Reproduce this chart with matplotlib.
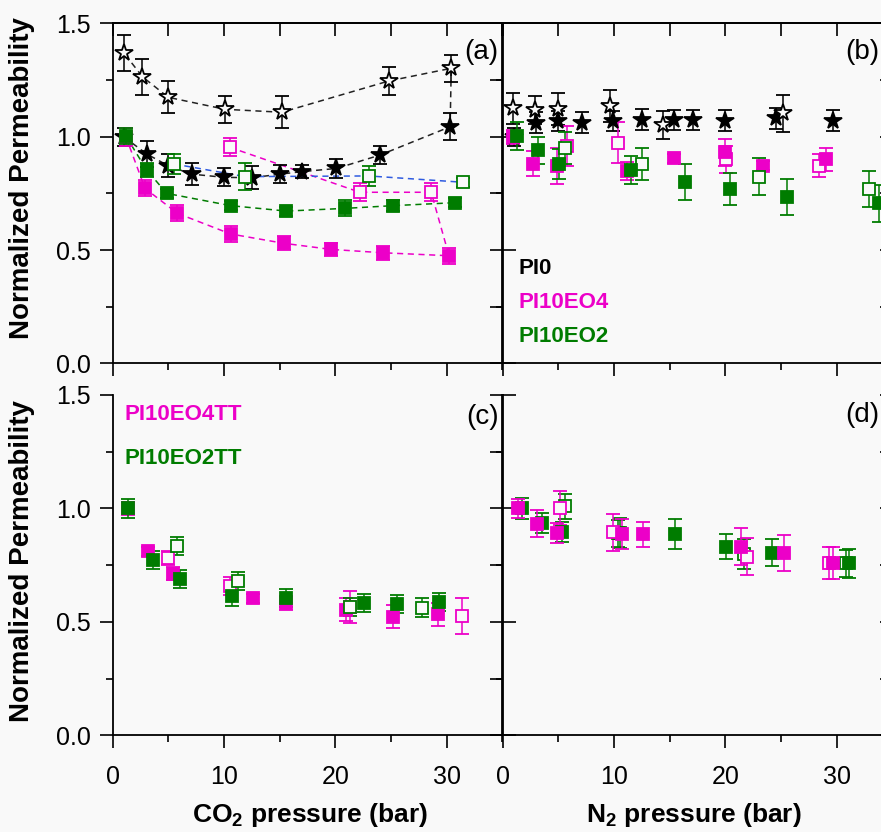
import numpy as np
import matplotlib.pyplot as plt
from matplotlib.ticker import MultipleLocator

plt.rcParams['font.family'] = ['Liberation Sans', 'DejaVu Sans']

MAG = '#ec00c8'
GRN = '#007c00'
BLU = '#2f5be0'
BG = '#f9f9f9'

# ---- (a) CO2, pristine / blended membranes ----
a_pi0_up_x = [1.0, 3.07, 5.0, 7.1, 10.0, 12.5, 15.05, 17.0, 20.1, 24.0, 30.3]
a_pi0_up_y = [1.00, 0.924, 0.872, 0.835, 0.821, 0.819, 0.835, 0.846, 0.860, 0.919, 1.044]
a_pi0_up_e = [0.04, 0.057, 0.05, 0.05, 0.04, 0.05, 0.04, 0.03, 0.04, 0.04, 0.06]
a_pi0_dn_x = [30.4, 24.8, 15.2, 10.1, 5.0, 2.68, 1.05]
a_pi0_dn_y = [1.302, 1.246, 1.108, 1.121, 1.174, 1.265, 1.368]
a_pi0_dn_e = [0.06, 0.06, 0.07, 0.06, 0.07, 0.08, 0.08]

a_eo4_up_x = [1.2, 2.92, 5.83, 10.6, 15.35, 19.6, 24.3, 30.2]
a_eo4_up_y = [1.00, 0.772, 0.662, 0.571, 0.530, 0.503, 0.488, 0.475]
a_eo4_up_e = [0.04, 0.035, 0.035, 0.035, 0.03, 0.03, 0.03, 0.035]
a_eo4_dn_x = [28.6, 22.2, 10.55]
a_eo4_dn_y = [0.755, 0.755, 0.953]
a_eo4_dn_e = [0.04, 0.04, 0.04]

a_eo2_up_x = [1.2, 3.07, 4.87, 10.6, 15.6, 20.9, 25.2, 30.7]
a_eo2_up_y = [1.003, 0.853, 0.750, 0.696, 0.672, 0.684, 0.696, 0.709]
a_eo2_up_e = [0.035, 0.03, 0.02, 0.02, 0.02, 0.035, 0.025, 0.02]
a_eo2_dn_x = [5.5, 11.9, 23.0, 31.5]
a_eo2_dn_y = [0.88, 0.824, 0.827, 0.799]
a_eo2_dn_e = [0.045, 0.06, 0.045, 0.02]

# ---- (b) N2, pristine / blended membranes ----
b_pi0_up_x = [1.0, 3.0, 5.0, 7.1, 9.95, 12.5, 15.35, 17.1, 20.0, 24.5, 29.7]
b_pi0_up_y = [1.00, 1.062, 1.069, 1.062, 1.069, 1.076, 1.073, 1.073, 1.071, 1.081, 1.071]
b_pi0_up_e = [0.04, 0.045, 0.045, 0.045, 0.045, 0.045, 0.045, 0.045, 0.045, 0.045, 0.045]
b_pi0_dn_x = [0.9, 2.9, 5.0, 9.66, 14.4, 25.2]
b_pi0_dn_y = [1.125, 1.118, 1.121, 1.135, 1.052, 1.103]
b_pi0_dn_e = [0.07, 0.06, 0.07, 0.07, 0.06, 0.08]

b_eo4_up_x = [0.97, 2.77, 4.87, 11.16, 15.35, 20.0, 23.4, 29.0]
b_eo4_up_y = [1.00, 0.880, 0.872, 0.850, 0.905, 0.931, 0.872, 0.900]
b_eo4_up_e = [0.03, 0.055, 0.08, 0.04, 0.02, 0.06, 0.02, 0.05]
b_eo4_dn_x = [5.77, 10.4, 20.1, 28.4]
b_eo4_dn_y = [0.959, 0.973, 0.900, 0.872]
b_eo4_dn_e = [0.09, 0.09, 0.06, 0.05]

b_eo2_up_x = [1.27, 3.2, 5.1, 11.5, 16.4, 20.4, 25.5, 33.8]
b_eo2_up_y = [1.003, 0.941, 0.880, 0.853, 0.799, 0.768, 0.735, 0.706]
b_eo2_up_e = [0.06, 0.06, 0.065, 0.06, 0.08, 0.07, 0.08, 0.08]
b_eo2_dn_x = [5.6, 12.5, 23.0, 32.9]
b_eo2_dn_y = [0.949, 0.880, 0.824, 0.768]
b_eo2_dn_e = [0.07, 0.07, 0.08, 0.08]

# ---- (c) CO2, thermally treated ----
c_eo4_up_x = [1.42, 3.2, 5.4, 12.65, 15.6, 20.98, 25.2, 29.2]
c_eo4_up_y = [1.00, 0.812, 0.713, 0.604, 0.582, 0.553, 0.523, 0.533]
c_eo4_up_e = [0.03, 0.02, 0.03, 0.02, 0.03, 0.05, 0.05, 0.05]
c_eo4_dn_x = [5.0, 10.5, 21.3, 31.4]
c_eo4_dn_y = [0.781, 0.658, 0.567, 0.527]
c_eo4_dn_e = [0.03, 0.04, 0.07, 0.08]

c_eo2_up_x = [1.42, 3.6, 6.06, 10.7, 15.56, 22.6, 25.5, 29.3]
c_eo2_up_y = [1.00, 0.772, 0.688, 0.614, 0.604, 0.585, 0.578, 0.589]
c_eo2_up_e = [0.04, 0.04, 0.04, 0.045, 0.04, 0.04, 0.04, 0.04]
c_eo2_dn_x = [5.77, 11.3, 21.35, 27.8]
c_eo2_dn_y = [0.835, 0.680, 0.567, 0.563]
c_eo2_dn_e = [0.04, 0.04, 0.04, 0.04]

# ---- (d) N2, thermally treated ----
d_eo4_up_x = [1.42, 3.07, 4.92, 10.7, 12.6, 21.4, 25.3, 29.7]
d_eo4_up_y = [1.00, 0.932, 0.891, 0.887, 0.887, 0.832, 0.805, 0.758]
d_eo4_up_e = [0.04, 0.06, 0.045, 0.065, 0.055, 0.08, 0.08, 0.07]
d_eo4_dn_x = [5.17, 9.96, 21.9, 29.3]
d_eo4_dn_y = [1.003, 0.894, 0.788, 0.758]
d_eo4_dn_e = [0.075, 0.08, 0.08, 0.07]

d_eo2_up_x = [1.72, 3.5, 5.3, 10.55, 15.5, 20.1, 24.2, 31.1]
d_eo2_up_y = [1.00, 0.935, 0.897, 0.891, 0.887, 0.832, 0.805, 0.758]
d_eo2_up_e = [0.045, 0.045, 0.045, 0.065, 0.065, 0.055, 0.06, 0.065]
d_eo2_dn_x = [5.6, 10.4, 21.7, 30.8]
d_eo2_dn_y = [1.009, 0.89, 0.80, 0.758]
d_eo2_dn_e = [0.055, 0.06, 0.065, 0.06]

W, H = 881, 832


def box(left, top, right, bottom):
    return [left / W, 1 - bottom / H, (right - left) / W, (bottom - top) / H]


def points(ax, x, y, e, color, marker, filled, ms, z=3):
    fc = color if filled else BG
    ax.errorbar(x, y, yerr=e, fmt=marker, ms=ms, mfc=fc, mec=color, mew=1.3,
                ecolor=color, elinewidth=1.1, capsize=5, capthick=1.1, zorder=z)


def dashed(ax, x, y, color):
    ax.plot(x, y, ls=(0, (4, 3)), lw=1.1, color=color, zorder=2)


def style(ax, top_row, left_col):
    ax.set_facecolor(BG)
    ax.set_xlim(0, 35)
    ax.set_ylim(0, 1.5)
    ax.xaxis.set_major_locator(MultipleLocator(10))
    ax.xaxis.set_minor_locator(MultipleLocator(5))
    ax.yaxis.set_major_locator(MultipleLocator(0.5))
    ax.yaxis.set_minor_locator(MultipleLocator(0.25))
    for s in ax.spines.values():
        s.set_linewidth(1.3)
    ax.tick_params(which='major', length=9.5, width=1.2, labelsize=18)
    ax.tick_params(which='minor', length=5, width=1.2)
    ax.tick_params(axis='x', direction='out', labelbottom=not top_row, pad=12)
    ax.tick_params(axis='y', direction='in' if not left_col else 'out',
                   labelleft=left_col, pad=6)
    ax.yaxis.set_major_formatter(plt.FormatStrFormatter('%.1f'))
    # mirrored ticks pointing inwards
    sec_y = ax.secondary_yaxis('right')
    sec_y.yaxis.set_major_locator(MultipleLocator(0.25))
    sec_y.tick_params(direction='in', length=9.5, width=1.2, labelright=False)
    sec_y.spines['right'].set_linewidth(1.3)
    if top_row:
        sec_x = ax.secondary_xaxis('top')
        sec_x.xaxis.set_major_locator(MultipleLocator(5))
        sec_x.tick_params(direction='in', length=9.5, width=1.2, labeltop=False)
        sec_x.spines['top'].set_linewidth(1.3)
    else:
        ax.spines['top'].set_visible(False)


fig = plt.figure(figsize=(W / 100, H / 100), dpi=100, facecolor=BG)
ax_a = fig.add_axes(box(112.5, 23.4, 502.5, 363.4))
ax_b = fig.add_axes(box(502.5, 23.4, 892.5, 363.4))
ax_c = fig.add_axes(box(112.5, 395.0, 502.5, 735.3))
ax_d = fig.add_axes(box(502.5, 395.0, 892.5, 735.3))

style(ax_a, True, True)
style(ax_b, True, False)
style(ax_c, False, True)
style(ax_d, False, False)

SQ, ST = 9, 13

# panel (a)
dashed(ax_a, a_pi0_up_x + a_pi0_dn_x, a_pi0_up_y + a_pi0_dn_y, '#222222')
dashed(ax_a, a_eo4_up_x + a_eo4_dn_x, a_eo4_up_y + a_eo4_dn_y, MAG)
dashed(ax_a, a_eo2_up_x, a_eo2_up_y, GRN)
dashed(ax_a, a_eo2_dn_x, a_eo2_dn_y, BLU)
points(ax_a, a_pi0_dn_x, a_pi0_dn_y, a_pi0_dn_e, 'black', '*', False, ST)
points(ax_a, a_pi0_up_x, a_pi0_up_y, a_pi0_up_e, 'black', '*', True, ST)
points(ax_a, a_eo4_dn_x, a_eo4_dn_y, a_eo4_dn_e, MAG, 's', False, SQ)
points(ax_a, a_eo4_up_x, a_eo4_up_y, a_eo4_up_e, MAG, 's', True, SQ)
points(ax_a, a_eo2_dn_x, a_eo2_dn_y, a_eo2_dn_e, GRN, 's', False, SQ)
points(ax_a, a_eo2_up_x, a_eo2_up_y, a_eo2_up_e, GRN, 's', True, SQ, z=4)

# panel (b)
points(ax_b, b_pi0_up_x, b_pi0_up_y, b_pi0_up_e, 'black', '*', True, ST)
points(ax_b, b_pi0_dn_x, b_pi0_dn_y, b_pi0_dn_e, 'black', '*', False, ST)
points(ax_b, b_eo4_dn_x, b_eo4_dn_y, b_eo4_dn_e, MAG, 's', False, SQ)
points(ax_b, b_eo4_up_x, b_eo4_up_y, b_eo4_up_e, MAG, 's', True, SQ)
points(ax_b, b_eo2_dn_x, b_eo2_dn_y, b_eo2_dn_e, GRN, 's', False, SQ)
points(ax_b, b_eo2_up_x, b_eo2_up_y, b_eo2_up_e, GRN, 's', True, SQ)

# panel (c)
points(ax_c, c_eo4_dn_x, c_eo4_dn_y, c_eo4_dn_e, MAG, 's', False, SQ)
points(ax_c, c_eo4_up_x, c_eo4_up_y, c_eo4_up_e, MAG, 's', True, SQ)
points(ax_c, c_eo2_dn_x, c_eo2_dn_y, c_eo2_dn_e, GRN, 's', False, SQ)
points(ax_c, c_eo2_up_x, c_eo2_up_y, c_eo2_up_e, GRN, 's', True, SQ)

# panel (d)
points(ax_d, d_eo2_dn_x, d_eo2_dn_y, d_eo2_dn_e, GRN, 's', False, SQ)
points(ax_d, d_eo2_up_x, d_eo2_up_y, d_eo2_up_e, GRN, 's', True, SQ)
points(ax_d, d_eo4_dn_x, d_eo4_dn_y, d_eo4_dn_e, MAG, 's', False, SQ)
points(ax_d, d_eo4_up_x, d_eo4_up_y, d_eo4_up_e, MAG, 's', True, SQ)

# panel letters
for ax, tag, yy in [(ax_a, '(a)', 0.915), (ax_c, '(c)', 0.935)]:
    ax.text(0.99, yy, tag, transform=ax.transAxes, ha='right', va='center', fontsize=20)
fig.text(879 / W, 1 - 52 / H, '(b)', ha='right', va='center', fontsize=20)
fig.text(879 / W, 1 - 415 / H, '(d)', ha='right', va='center', fontsize=20)

# sample names
for txt, col, yy in [('PI0', 'black', 268), ('PI10EO4', MAG, 302), ('PI10EO2', GRN, 337)]:
    fig.text(518 / W, 1 - yy / H, txt, color=col, fontsize=16, fontweight='bold', va='center')
for txt, col, yy in [('PI10EO4TT', MAG, 415), ('PI10EO2TT', GRN, 458)]:
    fig.text(124 / W, 1 - yy / H, txt, color=col, fontsize=16, fontweight='bold', va='center')

# axis titles
for yy in (178, 561):
    fig.text(22 / W, 1 - yy / H, 'Normalized Permeability', rotation=90, fontsize=20,
             fontweight='bold', ha='center', va='center')
fig.text(310 / W, 1 - 815 / H, r'CO$_\mathregular{2}$ pressure (bar)',
         fontsize=19, fontweight='bold', ha='center', va='center')
fig.text(694 / W, 1 - 815 / H, r'N$_\mathregular{2}$ pressure (bar)',
         fontsize=19, fontweight='bold', ha='center', va='center')

fig.savefig('out.png', dpi=100, facecolor=BG)
